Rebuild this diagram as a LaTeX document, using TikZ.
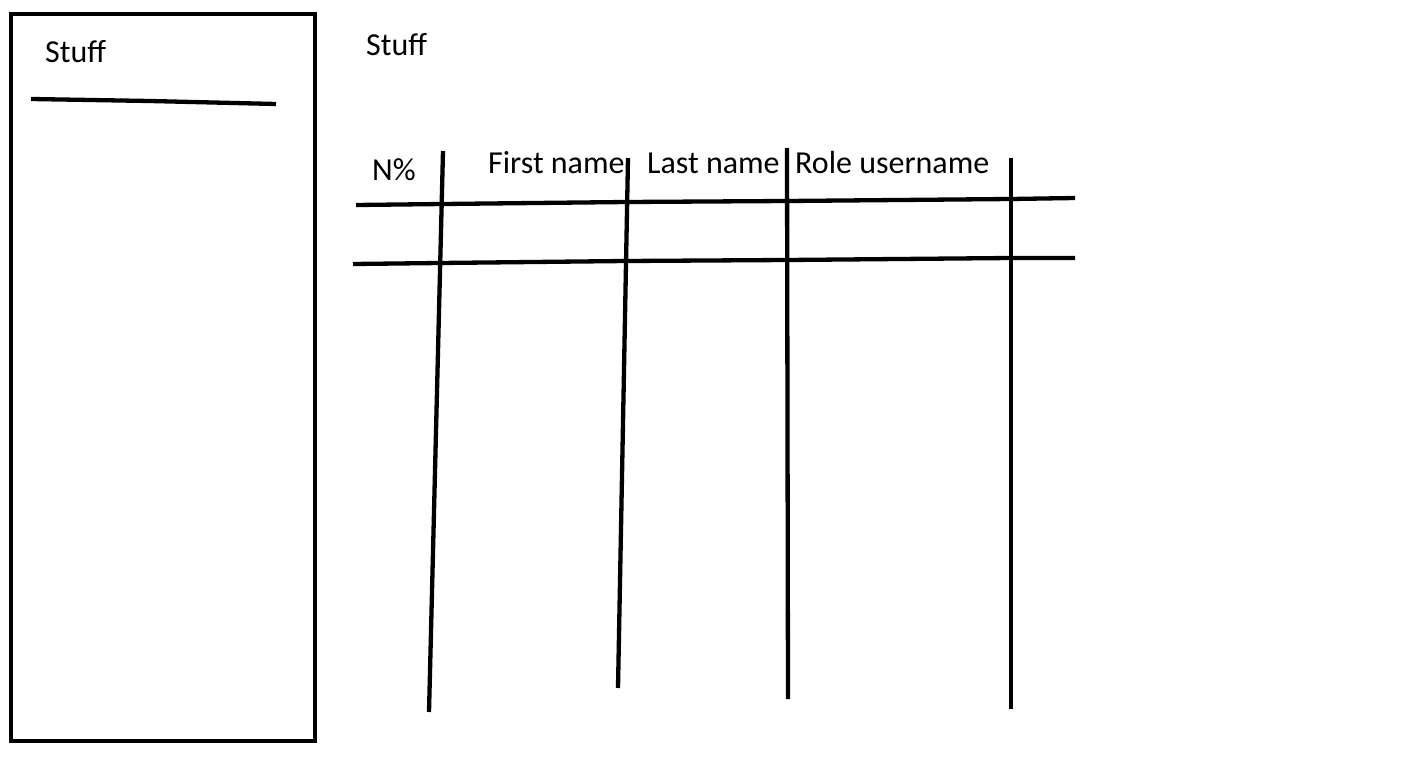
\documentclass[tikz,border=0pt]{standalone}
\usepackage{fontspec}
\setmainfont{Carlito}
\begin{document}
\begin{tikzpicture}[x=1pt,y=-1pt,
  pen/.style={line width=4.3pt,black},
  lbl/.style={anchor=base west,inner sep=0pt,font=\fontsize{32}{38}\selectfont}]
\useasboundingbox[fill=white] (0,0) rectangle (1409,757);
% side panel
\draw[pen] (11,14) rectangle (315,741);
\draw[pen] (31,99) -- (150,101) -- (276,104);
\node[lbl] (s1) at (45,63) {Stuff};
\node[lbl] (s2) at (366,56) {Stuff};
% headers
\node[lbl] (hn) at (372,181) {N\%};
\node[lbl] (hf) at (488,174) {First name};
\node[lbl] (hl) at (647,174) {Last name};
\node[lbl] (hr) at (795,174) {Role username};
% horizontal rules
\draw[pen] (356,205) -- (443,204) -- (627,202) -- (787,201) -- (1011,199) -- (1075,198);
\draw[pen] (353,264) -- (440,263) -- (626,261) -- (787,260) -- (1011,258) -- (1075,258);
% vertical rules
\draw[pen] (443,151) -- (429,712);
\draw[pen] (628,158) -- (618,688);
\draw[pen] (787,148) -- (788,699);
\draw[pen] (1011,158) -- (1011,709);
\end{tikzpicture}
\end{document}
